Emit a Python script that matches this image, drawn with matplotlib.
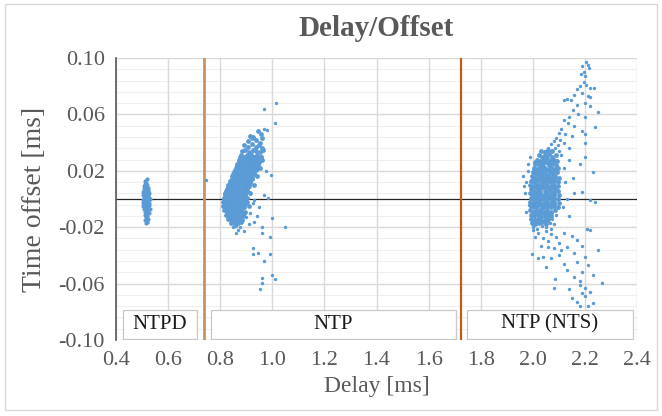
import numpy as np
import matplotlib
matplotlib.use("Agg")
import matplotlib.pyplot as plt
from matplotlib.patches import Rectangle

# ---------------- data ----------------
ntpd_points = [
    (0.512, 0.013), (0.518, 0.0145), (0.515, 0.011), (0.520, 0.010), (0.510, 0.009), (0.522, 0.008),
    (0.508, 0.007), (0.516, 0.007), (0.524, 0.006), (0.505, 0.005), (0.513, 0.005), (0.520, 0.004),
    (0.527, 0.004), (0.503, 0.003), (0.510, 0.003), (0.517, 0.002), (0.524, 0.002), (0.507, 0.001),
    (0.514, 0.001), (0.521, 0.000), (0.528, 0.001), (0.502, -0.001), (0.509, -0.001), (0.516, -0.002),
    (0.523, -0.002), (0.505, -0.003), (0.512, -0.003), (0.519, -0.004), (0.526, -0.004), (0.503, -0.005),
    (0.510, -0.005), (0.517, -0.006), (0.524, -0.006), (0.507, -0.007), (0.514, -0.008), (0.521, -0.008),
    (0.511, -0.009), (0.518, -0.010), (0.525, -0.010), (0.513, -0.011), (0.520, -0.012), (0.516, -0.013),
    (0.523, -0.014), (0.512, -0.015), (0.519, -0.016), (0.515, -0.017), (0.520, -0.0165), (0.530, 0.000),
    (0.531, -0.007), (0.506, 0.009), (0.511, 0.0105), (0.517, 0.0085), (0.523, 0.0035), (0.506, -0.0015),
    (0.527, -0.0025), (0.513, -0.0065), (0.520, -0.0095), (0.516, -0.0115), (0.509, 0.0045), (0.521, 0.0065),
]

ntp_core = [
    (0.944, 0.048), (0.958, 0.046), (0.925, 0.044), (0.914, 0.045),
    (0.905, 0.041), (0.921, 0.043), (0.937, 0.042), (0.952, 0.040), (0.962, 0.043),
    (0.893, 0.038), (0.908, 0.037), (0.922, 0.039), (0.936, 0.037), (0.949, 0.038), (0.961, 0.036),
    (0.884, 0.034), (0.897, 0.035), (0.911, 0.033), (0.924, 0.035), (0.938, 0.034), (0.951, 0.033), (0.963, 0.035),
    (0.878, 0.031), (0.890, 0.030), (0.904, 0.031), (0.917, 0.032), (0.930, 0.030), (0.943, 0.031), (0.956, 0.030),
    (0.871, 0.028), (0.884, 0.027), (0.897, 0.028), (0.910, 0.029), (0.923, 0.027), (0.936, 0.028), (0.949, 0.027), (0.961, 0.028),
    (0.866, 0.025), (0.879, 0.024), (0.892, 0.025), (0.905, 0.026), (0.918, 0.024), (0.931, 0.025), (0.944, 0.024),
    (0.859, 0.022), (0.872, 0.021), (0.885, 0.022), (0.898, 0.023), (0.911, 0.021), (0.924, 0.022), (0.937, 0.021), (0.952, 0.022),
    (0.852, 0.019), (0.865, 0.018), (0.878, 0.019), (0.891, 0.020), (0.904, 0.018), (0.917, 0.019), (0.930, 0.018),
    (0.845, 0.016), (0.858, 0.015), (0.871, 0.016), (0.884, 0.017), (0.897, 0.015), (0.910, 0.016), (0.923, 0.015), (0.940, 0.016),
    (0.838, 0.013), (0.851, 0.012), (0.864, 0.013), (0.877, 0.014), (0.890, 0.012), (0.903, 0.013), (0.916, 0.012),
    (0.831, 0.010), (0.844, 0.009), (0.857, 0.010), (0.870, 0.011), (0.883, 0.009), (0.896, 0.010), (0.909, 0.009), (0.928, 0.010),
    (0.825, 0.007), (0.838, 0.006), (0.851, 0.007), (0.864, 0.008), (0.877, 0.006), (0.890, 0.007), (0.903, 0.006),
    (0.818, 0.004), (0.831, 0.003), (0.844, 0.004), (0.857, 0.005), (0.870, 0.003), (0.883, 0.004), (0.896, 0.003), (0.915, 0.004),
    (0.813, 0.001), (0.826, 0.000), (0.839, 0.001), (0.852, 0.002), (0.865, 0.000), (0.878, 0.001), (0.891, 0.000), (0.904, 0.001),
    (0.810, -0.002), (0.823, -0.003), (0.836, -0.002), (0.849, -0.001), (0.862, -0.003), (0.875, -0.002), (0.888, -0.003), (0.901, -0.002),
    (0.812, -0.005), (0.825, -0.006), (0.838, -0.005), (0.851, -0.004), (0.864, -0.006), (0.877, -0.005), (0.890, -0.006), (0.912, -0.005),
    (0.816, -0.008), (0.829, -0.009), (0.842, -0.008), (0.855, -0.007), (0.868, -0.009), (0.881, -0.008), (0.896, -0.009),
    (0.822, -0.011), (0.835, -0.012), (0.848, -0.011), (0.861, -0.010), (0.874, -0.012), (0.887, -0.011),
    (0.830, -0.014), (0.843, -0.015), (0.856, -0.014), (0.869, -0.013), (0.882, -0.015),
    (0.842, -0.017), (0.855, -0.018), (0.868, -0.017), (0.880, -0.016),
    (0.877, 0.0295), (0.890, 0.0292), (0.903, 0.0298), (0.916, 0.0294), (0.929, 0.0297), (0.942, 0.0293), (0.955, 0.0296),
    (0.872, 0.0265), (0.885, 0.0262), (0.898, 0.0267), (0.911, 0.0264), (0.924, 0.0266), (0.937, 0.0262), (0.950, 0.0265),
    (0.865, 0.0235), (0.878, 0.0232), (0.891, 0.0237), (0.904, 0.0234), (0.917, 0.0236), (0.930, 0.0233), (0.943, 0.0235),
    (0.858, 0.0205), (0.871, 0.0202), (0.884, 0.0207), (0.897, 0.0204), (0.910, 0.0206), (0.923, 0.0203), (0.936, 0.0205),
    (0.851, 0.0175), (0.864, 0.0172), (0.877, 0.0177), (0.890, 0.0174), (0.903, 0.0176), (0.916, 0.0173), (0.929, 0.0175),
    (0.844, 0.0145), (0.857, 0.0142), (0.870, 0.0147), (0.883, 0.0144), (0.896, 0.0146), (0.909, 0.0143), (0.922, 0.0145),
    (0.837, 0.0115), (0.850, 0.0112), (0.863, 0.0117), (0.876, 0.0114), (0.889, 0.0116), (0.902, 0.0113), (0.915, 0.0115),
    (0.830, 0.0085), (0.843, 0.0082), (0.856, 0.0087), (0.869, 0.0084), (0.882, 0.0086), (0.895, 0.0083), (0.908, 0.0085),
    (0.823, 0.0055), (0.836, 0.0052), (0.849, 0.0057), (0.862, 0.0054), (0.875, 0.0056), (0.888, 0.0053), (0.901, 0.0055),
    (0.818, 0.0025), (0.831, 0.0022), (0.844, 0.0027), (0.857, 0.0024), (0.870, 0.0026), (0.883, 0.0023), (0.896, 0.0025),
    (0.816, -0.0005), (0.829, -0.0008), (0.842, -0.0003), (0.855, -0.0006), (0.868, -0.0004), (0.881, -0.0007), (0.894, -0.0005),
    (0.817, -0.0035), (0.830, -0.0038), (0.843, -0.0033), (0.856, -0.0036), (0.869, -0.0034), (0.882, -0.0037), (0.895, -0.0035),
    (0.820, -0.0065), (0.833, -0.0068), (0.846, -0.0063), (0.859, -0.0066), (0.872, -0.0064), (0.885, -0.0067),
    (0.826, -0.0095), (0.839, -0.0098), (0.852, -0.0093), (0.865, -0.0096), (0.878, -0.0094), (0.891, -0.0097),
    (0.834, -0.0125), (0.847, -0.0128), (0.860, -0.0123), (0.873, -0.0126), (0.886, -0.0124),
    (0.846, -0.0155), (0.859, -0.0158), (0.872, -0.0153),
]

ntp_sparse = [
    (0.968, 0.050), (0.966, 0.035), (0.930, -0.001), (0.915, -0.010), (0.900, -0.013),
    (0.850, -0.020), (0.862, -0.019), (0.875, -0.020),
    (0.745, 0.0138), (0.968, 0.064), (1.014, 0.068), (1.009, 0.054), (0.980, 0.049), (0.950, 0.040),
    (0.975, 0.020), (0.994, 0.017), (0.970, 0.003), (0.985, 0.001), (0.950, -0.006), (0.940, -0.012),
    (0.930, -0.016), (0.910, -0.018), (0.870, -0.022), (0.860, -0.024), (0.925, -0.003),
    (1.000, -0.0136), (1.049, -0.020), (0.959, -0.0198), (0.891, -0.0226), (0.960, -0.024), (0.991, -0.027),
    (0.927, -0.035), (0.945, -0.0386), (0.927, -0.039), (0.990, -0.039), (0.968, -0.044), (1.000, -0.054),
    (1.010, -0.057), (0.960, -0.056), (0.960, -0.0596), (0.953, -0.0636),
]

nts_core = [
    (2.030, 0.034), (2.045, 0.033), (2.060, 0.035), (2.075, 0.034),
    (2.022, 0.031), (2.035, 0.030), (2.048, 0.031), (2.061, 0.032), (2.074, 0.030), (2.088, 0.031),
    (2.016, 0.028), (2.029, 0.027), (2.042, 0.028), (2.055, 0.029), (2.068, 0.027), (2.081, 0.028), (2.094, 0.027),
    (2.010, 0.025), (2.023, 0.024), (2.036, 0.025), (2.049, 0.026), (2.062, 0.024), (2.075, 0.025), (2.088, 0.024),
    (2.005, 0.022), (2.018, 0.021), (2.031, 0.022), (2.044, 0.023), (2.057, 0.021), (2.070, 0.022), (2.083, 0.021), (2.096, 0.022),
    (2.000, 0.019), (2.013, 0.018), (2.026, 0.019), (2.039, 0.020), (2.052, 0.018), (2.065, 0.019), (2.078, 0.018), (2.091, 0.019),
    (1.996, 0.016), (2.009, 0.015), (2.022, 0.016), (2.035, 0.017), (2.048, 0.015), (2.061, 0.016), (2.074, 0.015), (2.087, 0.016), (2.100, 0.015),
    (1.992, 0.013), (2.005, 0.012), (2.018, 0.013), (2.031, 0.014), (2.044, 0.012), (2.057, 0.013), (2.070, 0.012), (2.083, 0.013), (2.096, 0.012),
    (1.991, 0.010), (2.004, 0.009), (2.017, 0.010), (2.030, 0.011), (2.043, 0.009), (2.056, 0.010), (2.069, 0.009), (2.082, 0.010), (2.098, 0.009),
    (1.993, 0.007), (2.006, 0.006), (2.019, 0.007), (2.032, 0.008), (2.045, 0.006), (2.058, 0.007), (2.071, 0.006), (2.084, 0.007), (2.097, 0.006),
    (1.990, 0.004), (2.003, 0.003), (2.016, 0.004), (2.029, 0.005), (2.042, 0.003), (2.055, 0.004), (2.068, 0.003), (2.081, 0.004), (2.100, 0.003),
    (1.992, 0.001), (2.005, 0.000), (2.018, 0.001), (2.031, 0.002), (2.044, 0.000), (2.057, 0.001), (2.070, 0.000), (2.083, 0.001), (2.096, 0.000),
    (1.990, -0.002), (2.003, -0.003), (2.016, -0.002), (2.029, -0.001), (2.042, -0.003), (2.055, -0.002), (2.068, -0.003), (2.081, -0.002), (2.099, -0.003),
    (1.992, -0.005), (2.005, -0.006), (2.018, -0.005), (2.031, -0.004), (2.044, -0.006), (2.057, -0.005), (2.070, -0.006), (2.083, -0.005), (2.095, -0.006),
    (1.991, -0.008), (2.004, -0.009), (2.017, -0.008), (2.030, -0.007), (2.043, -0.009), (2.056, -0.008), (2.069, -0.009), (2.086, -0.008),
    (1.993, -0.011), (2.006, -0.012), (2.019, -0.011), (2.032, -0.010), (2.045, -0.012), (2.058, -0.011), (2.071, -0.012),
    (1.994, -0.014), (2.007, -0.015), (2.020, -0.014), (2.033, -0.013), (2.046, -0.015), (2.059, -0.014),
    (1.997, -0.017), (2.010, -0.018), (2.023, -0.017), (2.036, -0.016), (2.049, -0.018),
    (2.010, 0.0265), (2.024, 0.0262), (2.038, 0.0267), (2.052, 0.0264), (2.066, 0.0266), (2.080, 0.0263),
    (2.006, 0.0205), (2.020, 0.0202), (2.034, 0.0207), (2.048, 0.0204), (2.062, 0.0206), (2.076, 0.0203), (2.090, 0.0205),
    (2.002, 0.0145), (2.016, 0.0142), (2.030, 0.0147), (2.044, 0.0144), (2.058, 0.0146), (2.072, 0.0143), (2.086, 0.0145),
    (1.998, 0.0085), (2.012, 0.0082), (2.026, 0.0087), (2.040, 0.0084), (2.054, 0.0086), (2.068, 0.0083), (2.082, 0.0085),
    (1.998, 0.0025), (2.012, 0.0022), (2.026, 0.0027), (2.040, 0.0024), (2.054, 0.0026), (2.068, 0.0023), (2.082, 0.0025),
    (1.998, -0.0035), (2.012, -0.0038), (2.026, -0.0033), (2.040, -0.0036), (2.054, -0.0034), (2.068, -0.0037), (2.082, -0.0035),
    (1.999, -0.0095), (2.013, -0.0098), (2.027, -0.0093), (2.041, -0.0096), (2.055, -0.0094), (2.069, -0.0097),
    (2.002, -0.0155), (2.016, -0.0158), (2.030, -0.0153), (2.044, -0.0156),
]

nts_sparse = [
    (2.204, 0.097), (2.210, 0.095), (2.190, 0.094), (2.215, 0.093), (2.197, 0.090), (2.200, 0.087),
    (2.185, 0.089), (2.195, 0.083), (2.180, 0.080), (2.205, 0.081), (2.170, 0.078), (2.220, 0.079),
    (2.235, 0.079), (2.190, 0.075), (2.160, 0.074), (2.210, 0.073), (2.130, 0.071), (2.145, 0.070),
    (2.118, 0.070), (2.220, 0.072), (2.200, 0.068), (2.170, 0.067), (2.155, 0.063), (2.220, 0.066),
    (2.250, 0.062), (2.175, 0.060), (2.140, 0.058), (2.120, 0.056), (2.200, 0.058), (2.135, 0.054),
    (2.160, 0.052), (2.240, 0.051), (2.190, 0.048), (2.110, 0.050), (2.100, 0.047), (2.125, 0.046),
    (2.150, 0.045), (2.090, 0.043), (2.105, 0.042), (2.080, 0.041), (2.120, 0.040), (2.200, 0.040),
    (2.070, 0.039), (2.095, 0.038), (2.060, 0.036), (2.140, 0.036), (2.045, 0.034), (2.200, 0.030),
    (2.180, 0.025), (2.230, 0.019), (2.140, 0.028), (2.120, 0.022), (2.155, 0.015), (2.190, 0.005),
    (2.160, 0.004), (2.220, -0.001), (2.130, 0.000), (2.240, -0.002), (2.110, 0.031), (2.100, 0.034),
    (2.085, 0.036), (2.125, 0.012), (2.115, -0.006), (2.140, -0.012), (2.200, 0.046),
    (1.963, 0.016), (1.965, 0.009), (1.970, 0.004), (1.975, 0.012), (1.980, 0.020), (1.985, -0.004),
    (1.975, -0.009), (1.980, 0.025), (1.990, 0.030),
    (2.090, -0.011), (2.075, -0.014), (2.065, -0.017), (2.080, -0.018), (2.058, -0.0154),
    (2.002, -0.020), (2.018, -0.021), (2.034, -0.019), (2.052, -0.020), (2.070, -0.021),
    (2.000, -0.022), (2.020, -0.024), (2.050, -0.023), (2.070, -0.025), (2.010, -0.027), (2.040, -0.028),
    (2.060, -0.030), (2.090, -0.027), (2.120, -0.024), (2.150, -0.026), (2.207, -0.021), (2.220, -0.022),
    (2.170, -0.029), (2.100, -0.031), (2.030, -0.033), (2.080, -0.035), (2.130, -0.034), (2.250, -0.036),
    (2.190, -0.033), (1.996, -0.039), (2.020, -0.042), (2.040, -0.041), (2.070, -0.042), (2.100, -0.040),
    (2.160, -0.038), (2.200, -0.041), (2.170, -0.045), (2.210, -0.047), (2.130, -0.050), (2.190, -0.052),
    (2.230, -0.054), (2.085, -0.057), (2.160, -0.055), (2.180, -0.058), (2.264, -0.0595), (2.080, -0.063),
    (2.140, -0.064), (2.180, -0.061), (2.200, -0.069), (2.220, -0.066), (2.168, -0.073), (2.180, -0.076),
    (2.210, -0.076), (2.230, -0.074), (2.190, -0.080), (2.200, -0.084), (2.150, -0.070), (2.120, -0.046),
    (2.050, -0.048), (2.110, -0.036), (2.060, -0.034), (2.200, -0.063), (2.190, -0.067),
]

xticks = [0.4, 0.6, 0.8, 1.0, 1.2, 1.4, 1.6, 1.8, 2.0, 2.2, 2.4]
yticks = [-0.10, -0.06, -0.02, 0.02, 0.06, 0.10]
divider_delays = [0.738, 1.725]
divider_colors = ["#C8935E", "#C55A11"]
region_labels = ["NTPD", "NTP", "NTP (NTS)"]
region_x = [(0.425, 0.712), (0.765, 1.705), (1.747, 2.385)]

# ---------------- figure ----------------
SERIF = ["Liberation Serif", "DejaVu Serif"]
fig = plt.figure(figsize=(6.62, 4.16), dpi=100)
fig.patches.append(Rectangle((0.007, 0.014), 0.986, 0.976, transform=fig.transFigure,
                             fill=False, edgecolor="#D9D9D9", linewidth=1.0))
ax = fig.add_axes([116 / 662, 1 - 340 / 416, (637 - 116) / 662, (340 - 58) / 416])

ax.set_xlim(0.4, 2.4)
ax.set_ylim(-0.10, 0.10)

# gridlines
for yv in np.arange(-0.10, 0.1001, 0.008):
    ax.axhline(yv, color="#EFEFEF", lw=0.8, zorder=0)
for yv in yticks:
    ax.axhline(yv, color="#D9D9D9", lw=1.0, zorder=0.5)
for xv in xticks:
    ax.axvline(xv, color="#D9D9D9", lw=1.0, zorder=0.5)
ax.axhline(0.0, color="#262626", lw=0.9, zorder=1)

for xv, c, w in zip(divider_delays, divider_colors, [2.0, 1.6]):
    ax.axvline(xv, color=c, lw=w, zorder=2)

for pts, size in ((ntpd_points, 9), (ntp_core, 12), (nts_core, 12), (ntp_sparse, 6), (nts_sparse, 6)):
    arr = np.array(pts)
    ax.scatter(arr[:, 0], arr[:, 1], s=size, color="#5B9BD5", linewidths=0, zorder=3)

for lab, (x0, x1) in zip(region_labels, region_x):
    ax.add_patch(Rectangle((x0, -0.0995), x1 - x0, 0.021, facecolor="white",
                           edgecolor="#C8C8C8", lw=0.9, zorder=4))
    ax.text((x0 + x1) / 2, -0.0888, lab, ha="center", va="center", fontsize=15,
            family=SERIF, color="#1A1A1A", zorder=5)

ax.set_xticks(xticks)
ax.set_xticklabels([f"{v:.1f}" for v in xticks])
ax.set_yticks(yticks)
ax.set_yticklabels([f"{v:.2f}" for v in yticks])
ax.tick_params(length=0, labelsize=16, colors="#595959", pad=8)
for lab in ax.get_xticklabels() + ax.get_yticklabels():
    lab.set_family(SERIF)

for s in ("top", "right", "bottom"):
    ax.spines[s].set_visible(False)
ax.spines["left"].set_color("#595959")
ax.spines["left"].set_linewidth(1.2)
ax.spines["left"].set_zorder(6)

ax.set_xlabel("Delay [ms]", fontsize=17, family=SERIF, color="#595959", labelpad=4)
ax.set_ylabel("Time offset [ms]", fontsize=20, family=SERIF, color="#595959", labelpad=8)
fig.text(0.5 * (116 + 637) / 662, 1 - 29 / 416, "Delay/Offset", ha="center", va="center",
         fontsize=21, fontweight="bold", family=SERIF, color="#595959")

fig.savefig("out.png", dpi=100)
